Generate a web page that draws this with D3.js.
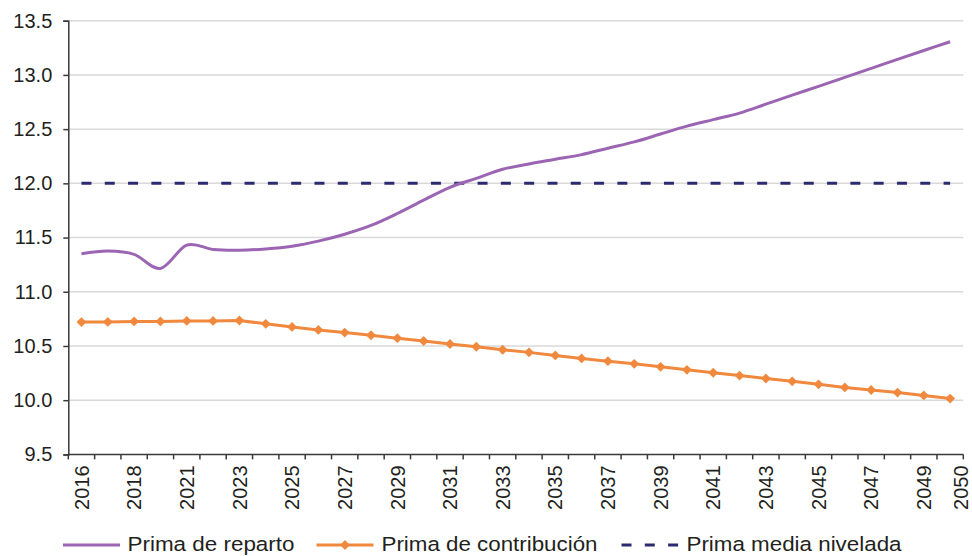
<!DOCTYPE html>
<html>
<head>
<meta charset="utf-8">
<script src="https://cdn.jsdelivr.net/npm/d3@7"></script>
<style>
  html, body { margin: 0; padding: 0; background: #fff; }
  svg { display: block; font-family: "Liberation Sans", Arial, Helvetica, sans-serif; }
</style>
</head>
<body>
<svg id="chart" width="972" height="556"></svg>
<script>
// Projection years (one category per year shown on the axis)
const years = ["2016","2017","2018","2020","2021","2022","2023","2024","2025","2026",
  "2027","2028","2029","2030","2031","2032","2033","2034","2035","2036",
  "2037","2038","2039","2040","2041","2042","2043","2044","2045","2046",
  "2047","2048","2049","2050"];

// Pay-as-you-go premium (%)
const primaReparto = [11.35, 11.375, 11.345, 11.215, 11.43, 11.39, 11.383, 11.395, 11.42, 11.467,
  11.531, 11.612, 11.722, 11.845, 11.963, 12.046, 12.13, 12.179, 12.222, 12.265,
  12.324, 12.382, 12.455, 12.528, 12.588, 12.648, 12.73, 12.813, 12.895, 12.978,
  13.06, 13.143, 13.225, 13.306];

// Contribution premium (%)
const primaContribucion = [10.72, 10.722, 10.726, 10.726, 10.731, 10.731, 10.735, 10.704, 10.676, 10.648,
  10.624, 10.599, 10.572, 10.546, 10.518, 10.493, 10.465, 10.441, 10.413, 10.385,
  10.36, 10.335, 10.308, 10.28, 10.253, 10.227, 10.2, 10.174, 10.146, 10.118,
  10.094, 10.07, 10.044, 10.015];

// Levelled average premium (%)
const primaMedia = years.map(() => 12.0);

// Labelled years on the horizontal axis
const xTickLabels = ["2016","2018","2021","2023","2025","2027","2029","2031","2033","2035",
  "2037","2039","2041","2043","2045","2047","2049","2050"];

const yTicks = [9.5, 10.0, 10.5, 11.0, 11.5, 12.0, 12.5, 13.0, 13.5];

const seriesNames = ["Prima de reparto", "Prima de contribución", "Prima media nivelada"];
const colors = { reparto: "#9b65b3", contrib: "#f0883d", media: "#2d2b6f" };

const svg = d3.select("#chart");
const plotLeft = 68.3, plotRight = 963.3, plotTop = 20.7, plotBottom = 454.4;

const x = d3.scaleBand().domain(years).range([plotLeft, plotRight]).padding(0);
const y = d3.scaleLinear().domain([9.5, 13.5]).range([plotBottom, plotTop]);
const cx = d => x(d) + x.bandwidth() / 2;

// Horizontal gridlines
svg.append("g").selectAll("line")
  .data(yTicks.slice(1))
  .join("line")
  .attr("x1", plotLeft).attr("x2", plotRight)
  .attr("y1", d => y(d)).attr("y2", d => y(d))
  .attr("stroke", "#d9d9d9").attr("stroke-width", 1.5);

// Y axis
const yAxis = svg.append("g")
  .attr("transform", `translate(${plotLeft},0)`)
  .call(d3.axisLeft(y).tickValues(yTicks).tickFormat(d3.format(".1f")).tickSize(5).tickPadding(11));
yAxis.select(".domain").attr("stroke", "#3a3a3a").attr("stroke-width", 1.5);
yAxis.selectAll(".tick line").attr("stroke", "#3a3a3a").attr("stroke-width", 1.5);
yAxis.selectAll(".tick text")
  .attr("font-size", 20).attr("fill", "#231f20")
  .attr("font-family", "Liberation Sans, Arial, sans-serif");

// X axis: ticks between categories, labels every second year
const xAxisG = svg.append("g").attr("transform", `translate(0,${plotBottom})`);
xAxisG.append("line")
  .attr("x1", plotLeft).attr("x2", plotRight).attr("y1", 0).attr("y2", 0)
  .attr("stroke", "#3a3a3a").attr("stroke-width", 1.5);
const boundaries = years.map(d => x(d)).concat([plotRight]);
xAxisG.selectAll("line.tk")
  .data(boundaries)
  .join("line")
  .attr("class", "tk")
  .attr("x1", d => d).attr("x2", d => d)
  .attr("y1", 0).attr("y2", 5)
  .attr("stroke", "#3a3a3a").attr("stroke-width", 1.5);
const lastYear = years[years.length - 1];
xAxisG.selectAll("text")
  .data(xTickLabels)
  .join("text")
  .attr("transform", d => {
    const px = d === lastYear ? plotRight - 3 : cx(d);
    return `translate(${px},11) rotate(-90)`;
  })
  .attr("text-anchor", "end")
  .attr("dy", "0.36em")
  .attr("font-size", 20)
  .attr("fill", "#231f20")
  .text(d => d);

// Lines
const smooth = d3.line()
  .x((d, i) => cx(years[i]))
  .y(d => y(d))
  .curve(d3.curveCardinal.tension(0));
const straight = d3.line()
  .x((d, i) => cx(years[i]))
  .y(d => y(d));

svg.append("path")
  .datum(primaMedia)
  .attr("d", straight)
  .attr("fill", "none")
  .attr("stroke", colors.media)
  .attr("stroke-width", 3)
  .attr("stroke-dasharray", "10,13.3");

svg.append("path")
  .datum(primaContribucion)
  .attr("d", straight)
  .attr("fill", "none")
  .attr("stroke", colors.contrib)
  .attr("stroke-width", 3);

const diamond = d3.symbol().type(d3.symbolSquare).size(48);
svg.append("g").selectAll("path")
  .data(primaContribucion)
  .join("path")
  .attr("d", diamond)
  .attr("transform", (d, i) => `translate(${cx(years[i])},${y(d)}) rotate(45)`)
  .attr("fill", colors.contrib);

svg.append("path")
  .datum(primaReparto)
  .attr("d", smooth)
  .attr("fill", "none")
  .attr("stroke", colors.reparto)
  .attr("stroke-width", 3);

// Legend
const legendY = 545;
const legendBaseline = 551.3;
const legendItems = [
  { name: seriesNames[0], color: colors.reparto, x0: 63, x1: 120, tx: 127.5, w: 167, dash: null, marker: false },
  { name: seriesNames[1], color: colors.contrib, x0: 316.5, x1: 373.5, tx: 381.5, w: 216, dash: null, marker: true },
  { name: seriesNames[2], color: colors.media, x0: 621.5, x1: 681, tx: 686.5, w: 215, dash: "10,13.3", marker: false }
];
const lg = svg.append("g");
legendItems.forEach(it => {
  lg.append("line")
    .attr("x1", it.x0).attr("x2", it.x1)
    .attr("y1", legendY).attr("y2", legendY)
    .attr("stroke", it.color).attr("stroke-width", 3)
    .attr("stroke-dasharray", it.dash);
  if (it.marker) {
    lg.append("path")
      .attr("d", diamond)
      .attr("transform", `translate(${(it.x0 + it.x1) / 2},${legendY}) rotate(45)`)
      .attr("fill", it.color);
  }
  lg.append("text")
    .attr("x", it.tx).attr("y", legendBaseline)
    .attr("font-size", 20.5)
    .attr("textLength", it.w)
    .attr("lengthAdjust", "spacingAndGlyphs")
    .attr("fill", "#231f20")
    .text(it.name);
});
</script>
</body>
</html>
